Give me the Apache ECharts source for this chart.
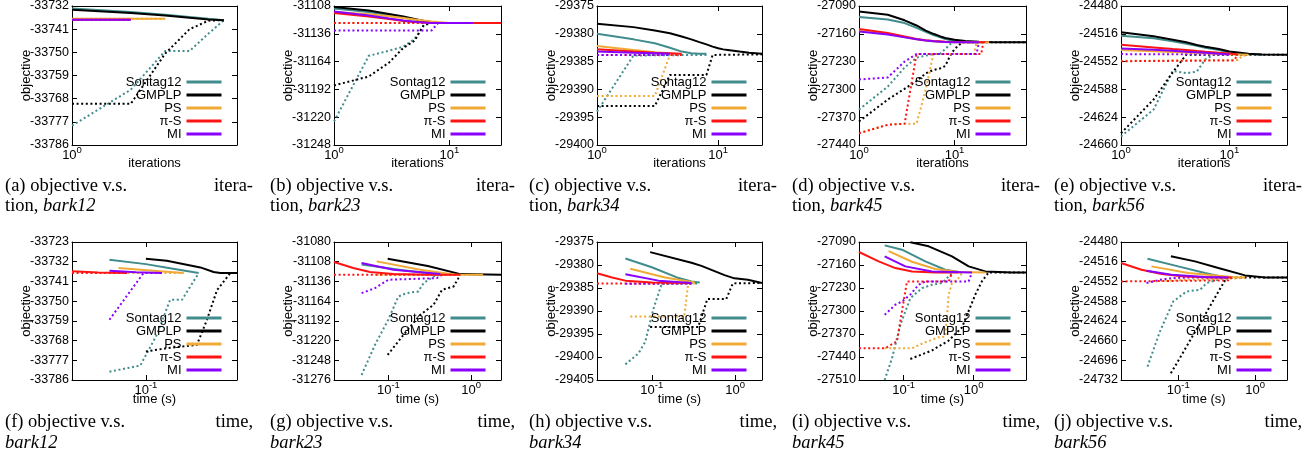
<!DOCTYPE html>
<html>
<head>
<meta charset="utf-8">
<script src="https://cdn.jsdelivr.net/npm/echarts@6/dist/echarts.min.js"></script>
<style>
  html, body { margin: 0; padding: 0; background: #fff; }
  #chart { width: 1315px; height: 470px; }
</style>
</head>
<body>
<div id="chart"></div>
<script>
// ---- methods (legend order) ----
const methodNames = ['Sontag12', 'GMPLP', 'PS', 'π-S', 'MI'];

// ---- axis ranges and ticks per panel (a..j) ----
const yMin  = [-33786, -31248, -29400, -27440, -24660, -33786, -31276, -29405, -27510, -24732];
const yMax  = [-33732, -31108, -29375, -27090, -24480, -33723, -31080, -29375, -27090, -24480];
const yStep = [9, 28, 5, 70, 36, 9, 28, 5, 70, 36];
const xMin  = [1, 1, 1, 1, 1, 0.029, 0.022, 0.022, 0.023, 0.018];
const xMax  = [7, 28, 23, 56, 34, 0.46, 2.3, 2.1, 5.6, 2.6];
const xTitles = ['iterations', 'iterations', 'iterations', 'iterations', 'iterations',
                 'time (s)', 'time (s)', 'time (s)', 'time (s)', 'time (s)'];

// ---- sub-captions ----
const capHead = ['(a) objective v.s.', '(b) objective v.s.', '(c) objective v.s.', '(d) objective v.s.', '(e) objective v.s.',
                 '(f) objective v.s.', '(g) objective v.s.', '(h) objective v.s.', '(i) objective v.s.', '(j) objective v.s.'];
const capTail = ['itera-', 'itera-', 'itera-', 'itera-', 'itera-', 'time,', 'time,', 'time,', 'time,', 'time,'];
const capLead = ['tion, ', 'tion, ', 'tion, ', 'tion, ', 'tion, ', '', '', '', '', ''];
const instances = ['bark12', 'bark23', 'bark34', 'bark45', 'bark56', 'bark12', 'bark23', 'bark34', 'bark45', 'bark56'];

// ================= objective vs. iteration (dual = solid, primal = dotted) =================
// (a) bark12
const a_dual_Sontag12 = [[1,-33733.0],[2,-33734.3],[3,-33735.4],[4,-33736.3],[5,-33737.0],[6,-33737.5]];
const a_dual_GMPLP    = [[1,-33733.5],[2,-33734.7],[3,-33735.7],[4,-33736.6],[5,-33737.2],[6,-33737.5]];
const a_dual_PS       = [[1,-33737.0],[2,-33737.0],[3,-33737.0]];
const a_dual_piS      = [[1,-33737.3],[2,-33737.3]];
const a_dual_MI       = [[1,-33737.3],[2,-33737.3]];
const a_primal_Sontag12 = [[1,-33778.5],[2,-33764.5],[3,-33749.5],[4,-33749.5],[5,-33742.7],[6,-33737.5]];
const a_primal_GMPLP    = [[1,-33770.0],[2,-33770.0],[3,-33750.5],[4,-33741.0],[5,-33737.7],[6,-33737.5]];
const a_primal_PS       = [[1,-33737.0],[3,-33737.0]];
const a_primal_piS      = [[1,-33737.3],[2,-33737.3]];
const a_primal_MI       = [[1,-33737.3],[2,-33737.3]];

// (b) bark23
const b_dual_Sontag12 = [[1,-31110.5],[2,-31114],[3,-31117],[4,-31119.5],[5,-31121.5],[6,-31123],[7,-31124.3],[8,-31125]];
const b_dual_GMPLP    = [[1,-31109],[2,-31112.5],[3,-31116],[4,-31118.5],[5,-31121],[6,-31123],[7,-31124.3],[8,-31125],[9,-31125]];
const b_dual_PS       = [[1,-31114],[2,-31116.3],[3,-31118.3],[4,-31120],[5,-31121.5],[6,-31122.6],[7,-31123.5],[8,-31124.2],[9,-31124.7],[10,-31125]];
const b_dual_piS      = [[1,-31115],[2,-31118.5],[3,-31121],[4,-31123],[5,-31124],[6,-31124.7],[7,-31125],[28,-31125]];
const b_dual_MI       = [[1,-31113.5],[2,-31117.5],[3,-31120.5],[4,-31122.5],[5,-31123.8],[6,-31124.5],[7,-31125],[16,-31125]];
const b_primal_Sontag12 = [[1,-31224.3],[2,-31158.2],[3,-31153],[4,-31149],[5,-31141],[6,-31127.7],[7,-31125],[8,-31125]];
const b_primal_GMPLP    = [[1,-31188],[2,-31179],[3,-31165],[4,-31150],[5,-31143],[6,-31127],[7,-31125],[9,-31125]];
const b_primal_PS       = [[1,-31125],[10,-31125]];
const b_primal_piS      = [[1,-31125],[28,-31125]];
const b_primal_MI       = [[1,-31132.7],[7,-31132.7],[8,-31125],[16,-31125]];

// (c) bark34
const c_dual_Sontag12 = [[1,-29380.0],[2,-29381.0],[3,-29381.7],[4,-29382.5],[5,-29383.2],[6,-29383.5],[7,-29383.6],[8,-29383.6]];
const c_dual_GMPLP    = [[1,-29378.2],[2,-29378.8],[3,-29379.4],[4,-29379.9],[5,-29380.5],[6,-29381.0],[7,-29381.5],[8,-29381.9],[9,-29382.3],[10,-29382.6],[11,-29382.8],[12,-29382.9],[15,-29383.2],[18,-29383.4],[23,-29383.6]];
const c_dual_PS       = [[1,-29382.2],[2,-29382.9],[3,-29383.3],[4,-29383.5]];
const c_dual_piS      = [[1,-29382.8],[2,-29383.2],[3,-29383.4],[4,-29383.5],[5,-29383.6]];
const c_dual_MI       = [[1,-29383.2],[2,-29383.4],[3,-29383.5],[4,-29383.6]];
const c_primal_Sontag12 = [[1,-29394.0],[2,-29383.9],[8,-29383.8]];
const c_primal_GMPLP    = [[1,-29393.0],[3,-29393.0],[4,-29387.4],[8,-29387.4],[9,-29383.8],[23,-29383.7]];
const c_primal_PS       = [[1,-29391.2],[3,-29391.2],[4,-29383.8]];
const c_primal_piS      = [[1,-29383.8],[5,-29383.8]];
const c_primal_MI       = [[1,-29383.8],[4,-29383.8]];

// (d) bark45
const d_dual_Sontag12 = [[1,-27118],[2,-27124],[3,-27133],[4,-27145],[5,-27155],[6,-27163],[7,-27168],[8,-27173],[10,-27178],[14,-27181],[20,-27181.5]];
const d_dual_GMPLP    = [[1,-27103.6],[2,-27112],[3,-27126],[4,-27139],[5,-27152],[6,-27160],[7,-27166],[8,-27170.5],[10,-27175],[13,-27178],[18,-27180],[25,-27181],[56,-27181.5]];
const d_dual_PS       = [[1,-27150],[2,-27160],[3,-27168],[4,-27174],[5,-27177],[6,-27179],[8,-27180.5],[10,-27181],[23,-27181.5]];
const d_dual_piS      = [[1,-27147.6],[2,-27158],[3,-27167],[4,-27173],[5,-27176],[6,-27178],[8,-27180],[10,-27180.8],[21,-27181.5]];
const d_dual_MI       = [[1,-27154],[2,-27162],[3,-27169],[4,-27174],[5,-27177],[6,-27179],[8,-27180.5],[10,-27181],[18,-27181.5]];
const d_primal_Sontag12 = [[1,-27351],[2,-27293],[3,-27245],[4,-27220],[5,-27215],[6,-27211],[7,-27211],[8,-27198.5],[9,-27186],[10,-27181.5],[14,-27181.5]];
const d_primal_GMPLP    = [[1,-27380.7],[2,-27325.6],[3,-27298.5],[4,-27279],[5,-27259.5],[6,-27251],[7,-27247.6],[8,-27241],[9,-27215],[10,-27198.5],[12,-27181.5],[56,-27181.5]];
const d_primal_PS       = [[1,-27410],[2,-27389],[3,-27386.6],[4,-27386.6],[5,-27300],[6,-27211],[16,-27211],[17,-27181.5],[23,-27181.5]];
const d_primal_piS      = [[1,-27410.4],[2,-27389],[3,-27386.6],[4,-27211],[19,-27211],[20,-27181.5],[21,-27181.5]];
const d_primal_MI       = [[1,-27275],[2,-27270],[3,-27230],[4,-27211],[17,-27211],[18,-27181.5]];

// (e) bark56
const e_dual_Sontag12 = [[1,-24518.4],[2,-24521.8],[3,-24525.8],[4,-24528.8],[5,-24531.4],[6,-24534],[8,-24537],[10,-24540.1],[12,-24541.4],[15,-24542.3],[20,-24543.2]];
const e_dual_GMPLP    = [[1,-24514],[2,-24519.2],[3,-24523.6],[4,-24527],[5,-24530.6],[6,-24532.7],[8,-24535.8],[10,-24538.8],[12,-24540.1],[15,-24541.8],[20,-24542.8],[34,-24543.2]];
const e_dual_PS       = [[1,-24537],[2,-24538.5],[3,-24539.5],[4,-24540.3],[6,-24541.3],[8,-24542],[10,-24542.5],[15,-24543.2]];
const e_dual_piS      = [[1,-24530.1],[2,-24533.6],[3,-24535.8],[4,-24537.1],[5,-24538.4],[6,-24539.3],[8,-24540.6],[10,-24541.4],[12,-24542.8]];
const e_dual_MI       = [[1,-24535],[2,-24536.7],[3,-24538],[4,-24539.3],[6,-24540.6],[8,-24541.9],[10,-24542.8]];
const e_primal_Sontag12 = [[1,-24649],[2,-24614],[3,-24564],[4,-24567],[5,-24565],[6,-24549],[7,-24543.5]];
const e_primal_GMPLP    = [[1,-24644.7],[2,-24601],[3,-24566],[4,-24543],[34,-24543.2]];
const e_primal_PS       = [[1,-24551],[12,-24550],[13,-24545],[15,-24543.2]];
const e_primal_piS      = [[1,-24551.5],[11,-24550.5],[12,-24542.8]];
const e_primal_MI       = [[1,-24542.3],[10,-24542.8]];

// ================= objective vs. time in seconds =================
// (f) bark12
const f_dual_Sontag12 = [[0.0543,-33731.1],[0.1,-33733.1],[0.15,-33735],[0.242,-33737.2]];
const f_dual_GMPLP    = [[0.1,-33730.6],[0.142,-33731.6],[0.249,-33734.6],[0.311,-33736.7],[0.348,-33737.2],[0.46,-33737.2]];
const f_dual_PS       = [[0.0632,-33734.9],[0.12,-33736.2],[0.188,-33737.2]];
const f_dual_piS      = [[0.029,-33736.4],[0.045,-33736.9],[0.073,-33737.2]];
const f_dual_MI       = [[0.0543,-33736.1],[0.085,-33736.8],[0.131,-33737.2]];
const f_primal_Sontag12 = [[0.0543,-33782.2],[0.091,-33779.4],[0.12,-33765.4],[0.15,-33749.4],[0.183,-33749.4],[0.242,-33737.2]];
const f_primal_GMPLP    = [[0.1,-33773],[0.142,-33771.5],[0.235,-33770],[0.278,-33758.5],[0.329,-33745],[0.411,-33737.2],[0.46,-33737.2]];
const f_primal_PS       = [[0.0632,-33737.2],[0.188,-33737.2]];
const f_primal_piS      = [[0.029,-33737.2],[0.073,-33737.2]];
const f_primal_MI       = [[0.0543,-33758.5],[0.096,-33737.2],[0.131,-33737.2]];

// (g) bark23
const g_dual_Sontag12 = [[0.0474,-31112],[0.15,-31120],[0.445,-31126.5]];
const g_dual_GMPLP    = [[0.098,-31103.7],[0.3,-31114],[0.742,-31125.6],[2.3,-31126.5]];
const g_dual_PS       = [[0.0722,-31107.5],[0.243,-31119.5],[0.615,-31126],[1.4,-31126.5]];
const g_dual_piS      = [[0.022,-31108.5],[0.0376,-31117],[0.0599,-31122.7],[0.115,-31125.6],[0.292,-31126.5],[0.742,-31126.5]];
const g_dual_MI       = [[0.0474,-31109.9],[0.115,-31119.4],[0.424,-31125.6]];
const g_primal_Sontag12 = [[0.0474,-31268.9],[0.0689,-31226],[0.1,-31190],[0.132,-31157.4],[0.167,-31152.6],[0.231,-31150.2],[0.266,-31138.4],[0.352,-31128.9],[0.424,-31126.5]];
const g_primal_GMPLP    = [[0.098,-31240.4],[0.152,-31211.9],[0.243,-31183.5],[0.352,-31169.2],[0.445,-31147.9],[0.615,-31143.1],[0.742,-31126.5]];
const g_primal_PS       = [[0.0722,-31126.5],[1.4,-31126.5]];
const g_primal_piS      = [[0.022,-31126.5],[0.742,-31126.5]];
const g_primal_MI       = [[0.0474,-31152.6],[0.0689,-31145.5],[0.1,-31133.6],[0.386,-31131.3],[0.445,-31126.5]];

// (h) bark34
const h_dual_Sontag12 = [[0.0482,-29378.6],[0.1,-29380.5],[0.2,-29382.7],[0.299,-29383.6],[0.376,-29383.8]];
const h_dual_GMPLP    = [[0.0955,-29377.2],[0.299,-29379.5],[0.394,-29380.2],[0.746,-29382.2],[0.98,-29382.9],[1.42,-29383.2],[2.1,-29383.9]];
const h_dual_PS       = [[0.0552,-29380.8],[0.144,-29382.7],[0.328,-29383.8]];
const h_dual_piS      = [[0.022,-29381.8],[0.0334,-29382.7],[0.0482,-29383.4],[0.1,-29383.8],[0.299,-29383.9]];
const h_dual_MI       = [[0.0482,-29382.0],[0.12,-29383.4],[0.299,-29383.9]];
const h_primal_Sontag12 = [[0.0482,-29401.6],[0.0693,-29399.2],[0.0834,-29396.7],[0.1047,-29389.5],[0.1315,-29384.1],[0.376,-29384.0]];
const h_primal_GMPLP    = [[0.0955,-29393.5],[0.36,-29393.5],[0.464,-29387.4],[0.782,-29387.4],[0.938,-29384.0],[2.1,-29383.9]];
const h_primal_PS       = [[0.0552,-29391.2],[0.245,-29391.2],[0.273,-29384.1],[0.328,-29384.0]];
const h_primal_piS      = [[0.022,-29384.0],[0.299,-29384.0]];
const h_primal_MI       = [[0.0482,-29384.1],[0.299,-29384.0]];

// (i) bark45
const i_dual_Sontag12 = [[0.0535,-27100.2],[0.0947,-27113.4],[0.204,-27149],[0.394,-27174.4],[0.681,-27182.5]];
const i_dual_GMPLP    = [[0.1246,-27091],[0.228,-27103.2],[0.49,-27133.7],[0.849,-27164.2],[1.47,-27179.5],[3.53,-27182.5],[5.6,-27182.5]];
const i_dual_PS       = [[0.061,-27118],[0.1316,-27150],[0.283,-27172],[0.61,-27181.5],[1.47,-27182.5]];
const i_dual_piS      = [[0.023,-27120.5],[0.0439,-27149],[0.076,-27169.3],[0.1316,-27179.5],[0.283,-27182.5],[0.61,-27182.5]];
const i_dual_MI       = [[0.0535,-27133.7],[0.1056,-27164.2],[0.254,-27180],[0.947,-27182.5]];
const i_primal_Sontag12 = [[0.0535,-27510],[0.0681,-27443.9],[0.0896,-27342.2],[0.1246,-27260.8],[0.183,-27230.3],[0.254,-27220.2],[0.353,-27215],[0.44,-27194.7],[0.49,-27184.6]];
const i_primal_GMPLP    = [[0.1246,-27446],[0.254,-27420],[0.44,-27390],[0.681,-27350],[0.849,-27300],[1.056,-27250],[1.31,-27210],[1.64,-27182.5],[5.6,-27182.5]];
const i_primal_PS       = [[0.0535,-27413.4],[0.1316,-27413.4],[0.204,-27395],[0.316,-27380],[0.394,-27377.8],[0.44,-27250],[0.49,-27215],[0.61,-27200],[0.681,-27184.6]];
const i_primal_piS      = [[0.023,-27413.4],[0.0547,-27413.4],[0.0803,-27392],[0.0947,-27300],[0.1116,-27210],[0.44,-27210],[0.49,-27184.6]];
const i_primal_MI       = [[0.0535,-27311.7],[0.076,-27281],[0.0947,-27271],[0.1246,-27250],[0.1638,-27220],[0.204,-27210],[0.849,-27210],[0.947,-27182.5]];

// (j) bark56
const j_dual_Sontag12 = [[0.0398,-24510.5],[0.1,-24524.5],[0.223,-24536.7],[0.406,-24544.7]];
const j_dual_GMPLP    = [[0.0802,-24506.2],[0.165,-24515.4],[0.333,-24527.6],[0.741,-24541],[1.35,-24544.7],[2.6,-24544.7]];
const j_dual_PS       = [[0.0449,-24524.5],[0.135,-24536.7],[0.497,-24544.1],[0.741,-24544.7]];
const j_dual_piS      = [[0.018,-24518.4],[0.0333,-24530.6],[0.0607,-24538.6],[0.122,-24542.8],[0.272,-24544.7],[0.497,-24544.7]];
const j_dual_MI       = [[0.0387,-24532.5],[0.0819,-24539.8],[0.223,-24544.1],[0.449,-24544.7]];
const j_primal_Sontag12 = [[0.0398,-24707.6],[0.0577,-24643.5],[0.0861,-24588.6],[0.1284,-24570.3],[0.192,-24567.3],[0.234,-24555],[0.406,-24544.7]];
const j_primal_GMPLP    = [[0.0802,-24719.8],[0.135,-24665.5],[0.223,-24613],[0.427,-24544.7],[2.6,-24544.7]];
const j_primal_PS       = [[0.0449,-24552],[0.135,-24549],[0.6,-24546.5],[0.741,-24544.7]];
const j_primal_piS      = [[0.018,-24552],[0.45,-24550],[0.497,-24544.7]];
const j_primal_MI       = [[0.0387,-24555],[0.0577,-24549],[0.0819,-24546],[0.135,-24545],[0.427,-24544.7]];

// ---- per-panel lists, in legend order ----
const dualSets = [
  [a_dual_Sontag12, a_dual_GMPLP, a_dual_PS, a_dual_piS, a_dual_MI],
  [b_dual_Sontag12, b_dual_GMPLP, b_dual_PS, b_dual_piS, b_dual_MI],
  [c_dual_Sontag12, c_dual_GMPLP, c_dual_PS, c_dual_piS, c_dual_MI],
  [d_dual_Sontag12, d_dual_GMPLP, d_dual_PS, d_dual_piS, d_dual_MI],
  [e_dual_Sontag12, e_dual_GMPLP, e_dual_PS, e_dual_piS, e_dual_MI],
  [f_dual_Sontag12, f_dual_GMPLP, f_dual_PS, f_dual_piS, f_dual_MI],
  [g_dual_Sontag12, g_dual_GMPLP, g_dual_PS, g_dual_piS, g_dual_MI],
  [h_dual_Sontag12, h_dual_GMPLP, h_dual_PS, h_dual_piS, h_dual_MI],
  [i_dual_Sontag12, i_dual_GMPLP, i_dual_PS, i_dual_piS, i_dual_MI],
  [j_dual_Sontag12, j_dual_GMPLP, j_dual_PS, j_dual_piS, j_dual_MI]
];
const primalSets = [
  [a_primal_Sontag12, a_primal_GMPLP, a_primal_PS, a_primal_piS, a_primal_MI],
  [b_primal_Sontag12, b_primal_GMPLP, b_primal_PS, b_primal_piS, b_primal_MI],
  [c_primal_Sontag12, c_primal_GMPLP, c_primal_PS, c_primal_piS, c_primal_MI],
  [d_primal_Sontag12, d_primal_GMPLP, d_primal_PS, d_primal_piS, d_primal_MI],
  [e_primal_Sontag12, e_primal_GMPLP, e_primal_PS, e_primal_piS, e_primal_MI],
  [f_primal_Sontag12, f_primal_GMPLP, f_primal_PS, f_primal_piS, f_primal_MI],
  [g_primal_Sontag12, g_primal_GMPLP, g_primal_PS, g_primal_piS, g_primal_MI],
  [h_primal_Sontag12, h_primal_GMPLP, h_primal_PS, h_primal_piS, h_primal_MI],
  [i_primal_Sontag12, i_primal_GMPLP, i_primal_PS, i_primal_piS, i_primal_MI],
  [j_primal_Sontag12, j_primal_GMPLP, j_primal_PS, j_primal_piS, j_primal_MI]
];

// ---- styling / layout ----
const methodColors = ['#418c8c', '#000000', '#f0aa35', '#ff1414', '#8a00ff'];
const SANS = '"Liberation Sans", Arial, Helvetica, sans-serif';
const SERIF = '"Liberation Serif", "DejaVu Serif", serif';
const CAP_SIZE = 18.5;
const colLeft  = [72, 334, 597, 859, 1121];
const colWidth = [165, 167, 165, 167, 166];
const rowTop    = [6, 242];
const rowHeight = [139, 138];
const legendTop = [75.5, 311.5];
const capLine1 = [186, 422];
const capLine2 = [206, 443];
const capLeft  = [5, 270, 529, 792, 1054];
const capRight = [253, 515, 777, 1040, 1302];

function powerLabel(v) {
  const e = Math.log10(v);
  const r = Math.round(e);
  if (Math.abs(e - r) > 1e-6) return '';
  return '{b|10}{s|' + r + '}';
}

const grids = [], xAxes = [], yAxes = [], series = [], legends = [], graphics = [];

for (let p = 0; p < 10; p++) {
  const col = p % 5, row = p < 5 ? 0 : 1;
  grids.push({
    left: colLeft[col], top: rowTop[row], width: colWidth[col], height: rowHeight[row],
    outerBoundsMode: 'none', containLabel: false
  });

  const axisLineStyle = { show: true, onZero: false, lineStyle: { color: '#000', width: 1 } };
  const tickStyle = { show: true, inside: true, length: 5, lineStyle: { color: '#000', width: 1 } };

  xAxes.push({
    type: 'log', logBase: 10, gridIndex: p, position: 'bottom',
    min: xMin[p], max: xMax[p],
    axisLine: axisLineStyle, axisTick: tickStyle, splitLine: { show: false },
    axisLabel: {
      margin: 0, formatter: powerLabel, color: '#000',
      rich: {
        b: { fontSize: 13, fontFamily: SANS, color: '#000', padding: [4, 0, 0, 0], verticalAlign: 'bottom' },
        s: { fontSize: 9.5, fontFamily: SANS, color: '#000', verticalAlign: 'top' }
      }
    },
    name: xTitles[p], nameLocation: 'middle', nameGap: row === 0 ? 12 : 13,
    nameMoveOverlap: false,
    nameTextStyle: { fontSize: 13, fontFamily: SANS, color: '#000' }
  });
  xAxes.push({
    type: 'log', logBase: 10, gridIndex: p, position: 'top',
    min: xMin[p], max: xMax[p],
    axisLine: axisLineStyle, axisTick: tickStyle, splitLine: { show: false },
    axisLabel: { show: false }
  });

  yAxes.push({
    type: 'value', gridIndex: p, position: 'left',
    min: yMin[p], max: yMax[p], interval: yStep[p],
    axisLine: axisLineStyle, axisTick: tickStyle, splitLine: { show: false },
    axisLabel: { margin: 3, fontSize: 12.5, fontFamily: SANS, color: '#000', formatter: v => String(Math.round(v)) },
    name: 'objective', nameLocation: 'middle', nameGap: 39.5,
    nameMoveOverlap: false,
    nameTextStyle: { fontSize: 13, fontFamily: SANS, color: '#000' }
  });
  yAxes.push({
    type: 'value', gridIndex: p, position: 'right',
    min: yMin[p], max: yMax[p], interval: yStep[p],
    axisLine: axisLineStyle, axisTick: tickStyle, splitLine: { show: false },
    axisLabel: { show: false }
  });

  // primal (dotted) curves underneath, dual (solid) curves on top
  primalSets[p].forEach((data, m) => {
    series.push({
      type: 'line', name: methodNames[m] + ' primal', xAxisIndex: 2 * p, yAxisIndex: 2 * p,
      data: data, symbol: 'none', showSymbol: false, silent: true, z: 2,
      color: methodColors[m],
      lineStyle: { color: methodColors[m], width: 2, type: [2, 2.6], cap: 'butt' }
    });
  });
  dualSets[p].forEach((data, m) => {
    series.push({
      type: 'line', name: methodNames[m], xAxisIndex: 2 * p, yAxisIndex: 2 * p,
      data: data, symbol: 'none', showSymbol: false, silent: true, z: 3,
      color: methodColors[m],
      lineStyle: { color: methodColors[m], width: 2 }
    });
  });

  legends.push({
    data: methodNames, orient: 'vertical', align: 'right',
    right: 1315 - (colLeft[col] + colWidth[col] - 15.5), top: legendTop[row],
    itemWidth: 35, itemHeight: 3, itemGap: 0, icon: 'rect', padding: 0,
    selectedMode: false,
    textStyle: { fontSize: 13, lineHeight: 12.6, fontFamily: SANS, color: '#000' }
  });

  // sub-caption under each panel
  graphics.push({
    type: 'text', x: capLeft[col], y: capLine1[row],
    style: { text: capHead[p], font: CAP_SIZE + 'px ' + SERIF, fill: '#000', textAlign: 'left', textVerticalAlign: 'middle' }
  });
  graphics.push({
    type: 'text', x: capRight[col], y: capLine1[row],
    style: { text: capTail[p], font: CAP_SIZE + 'px ' + SERIF, fill: '#000', textAlign: 'right', textVerticalAlign: 'middle' }
  });
  graphics.push({
    type: 'text', x: capLeft[col], y: capLine2[row],
    style: {
      text: (capLead[p] ? '{n|' + capLead[p] + '}' : '') + '{i|' + instances[p] + '}',
      fill: '#000', textAlign: 'left', textVerticalAlign: 'middle',
      rich: {
        n: { fontSize: CAP_SIZE, fontFamily: SERIF, fontStyle: 'normal', fill: '#000' },
        i: { fontSize: CAP_SIZE, fontFamily: SERIF, fontStyle: 'italic', fill: '#000' }
      }
    }
  });
}

const chart = echarts.init(document.getElementById('chart'), null, { renderer: 'canvas' });
chart.setOption({
  animation: false,
  backgroundColor: '#fff',
  grid: grids,
  xAxis: xAxes,
  yAxis: yAxes,
  legend: legends,
  series: series,
  graphic: graphics
});
</script>
</body>
</html>
